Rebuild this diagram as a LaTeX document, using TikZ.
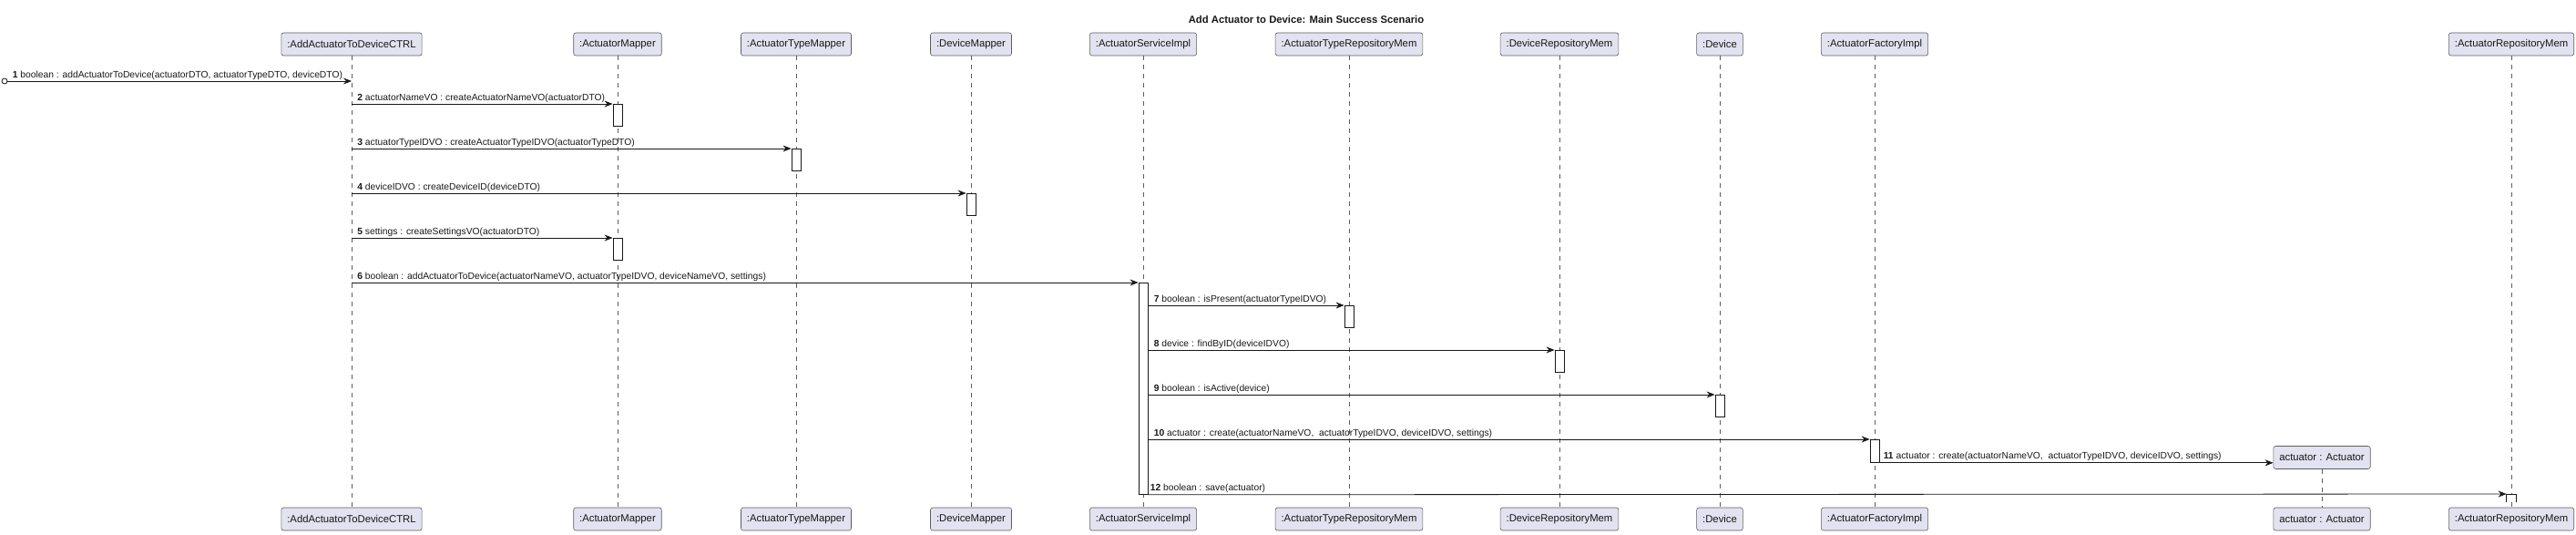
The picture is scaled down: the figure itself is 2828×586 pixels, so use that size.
\documentclass[tikz,border=0pt]{standalone}
\usepackage{fontspec}
\setmainfont{Liberation Sans}
\usetikzlibrary{arrows.meta,calc}
\definecolor{pfill}{HTML}{E2E2F0}
\definecolor{ink}{HTML}{181818}
\begin{document}
\begin{tikzpicture}[x=1pt,y=-1pt,
 part/.style={draw=ink!70, fill=pfill, rounded corners=2.5pt, line width=0.6pt, minimum height=25pt, inner xsep=6.5pt, inner ysep=0pt, font=\fontsize{11.3}{13}\selectfont, text=ink},
 life/.style={draw=ink!70, dash pattern=on 5pt off 5pt, line width=0.5pt},
 actbox/.style={draw=ink, fill=white, line width=0.8pt, minimum width=10pt, minimum height=24pt, inner sep=0pt, anchor=north},
 msg/.style={draw=ink, line width=0.8pt, -{Stealth[length=9pt,width=7pt,inset=3pt]}},
 lbl/.style={font=\fontsize{10.3}{12}\selectfont, text=ink, inner sep=0pt, anchor=base west, xshift=6pt, yshift=4pt},
]
\path[use as bounding box] (0,0) rectangle (2828,586);

\node[font=\bfseries\fontsize{11.3}{13}\selectfont, text=ink] (title) at (1434,21) {Add Actuator to Device: Main Success Scenario};

% participants
\node[part] (ctrlT) at (386,48.5) {:AddActuatorToDeviceCTRL};
\node[part] (ctrlB) at (386,569.5) {:AddActuatorToDeviceCTRL};
\node[part] (amT) at (678,48.5) {:ActuatorMapper};
\node[part] (amB) at (678,569.5) {:ActuatorMapper};
\node[part] (atmT) at (874,48.5) {:ActuatorTypeMapper};
\node[part] (atmB) at (874,569.5) {:ActuatorTypeMapper};
\node[part] (dmT) at (1066,48.5) {:DeviceMapper};
\node[part] (dmB) at (1066,569.5) {:DeviceMapper};
\node[part] (svcT) at (1255,48.5) {:ActuatorServiceImpl};
\node[part] (svcB) at (1255,569.5) {:ActuatorServiceImpl};
\node[part] (atrT) at (1481,48.5) {:ActuatorTypeRepositoryMem};
\node[part] (atrB) at (1481,569.5) {:ActuatorTypeRepositoryMem};
\node[part] (drT) at (1712,48.5) {:DeviceRepositoryMem};
\node[part] (drB) at (1712,569.5) {:DeviceRepositoryMem};
\node[part] (devT) at (1888,48.5) {:Device};
\node[part] (devB) at (1888,569.5) {:Device};
\node[part] (facT) at (2058,48.5) {:ActuatorFactoryImpl};
\node[part] (facB) at (2058,569.5) {:ActuatorFactoryImpl};
\node[part] (actT) at (2549,502) {actuator : Actuator};
\node[part] (actB) at (2549,569.5) {actuator : Actuator};
\node[part] (arT) at (2757,48.5) {:ActuatorRepositoryMem};
\node[part] (arB) at (2757,569.5) {:ActuatorRepositoryMem};

% lifelines
\draw[life] (ctrlT.south) -- (ctrlB.north);
\draw[life] (amT.south) -- (amB.north);
\draw[life] (atmT.south) -- (atmB.north);
\draw[life] (dmT.south) -- (dmB.north);
\draw[life] (svcT.south) -- (svcB.north);
\draw[life] (atrT.south) -- (atrB.north);
\draw[life] (drT.south) -- (drB.north);
\draw[life] (devT.south) -- (devB.north);
\draw[life] (facT.south) -- (facB.north);
\draw[life] (actT.south) -- (actB.north);
\draw[life] (arT.south) -- (arB.north);

% activations
\node[actbox] (a2) at (678,114) {};
\node[actbox] (a3) at (874,163) {};
\node[actbox] (a4) at (1066,212) {};
\node[actbox] (a5) at (678,261) {};
\node[actbox, minimum height=232pt] (a6) at (1255,310) {};
\node[actbox] (a7) at (1481,335) {};
\node[actbox] (a8) at (1712,384) {};
\node[actbox] (a9) at (1888,433) {};
\node[actbox, minimum height=25pt] (a10) at (2058,482) {};
\node[actbox, draw=none, minimum height=8pt] (a12) at (2757,542) {};
\draw[ink, line width=0.8pt] (a12.south west) -- (a12.north west) -- (a12.north east) -- (a12.south east);

% messages
\node[circle, draw=ink, line width=0.8pt, fill=white, minimum size=6pt, inner sep=0pt] (start) at (5,89) {};
\draw[msg] (start.east) -- (start -| ctrlT) node[lbl, at start, xshift=-1pt] {\textbf{1} boolean : addActuatorToDevice(actuatorDTO, actuatorTypeDTO, deviceDTO)};
\draw[msg] (ctrlT |- a2.north) -- (a2.north west) node[lbl, at start] {\textbf{2} actuatorNameVO : createActuatorNameVO(actuatorDTO)};
\draw[msg] (ctrlT |- a3.north) -- (a3.north west) node[lbl, at start] {\textbf{3} actuatorTypeIDVO : createActuatorTypeIDVO(actuatorTypeDTO)};
\draw[msg] (ctrlT |- a4.north) -- (a4.north west) node[lbl, at start] {\textbf{4} deviceIDVO : createDeviceID(deviceDTO)};
\draw[msg] (ctrlT |- a5.north) -- (a5.north west) node[lbl, at start] {\textbf{5} settings : createSettingsVO(actuatorDTO)};
\draw[msg] (ctrlT |- a6.north) -- (a6.north west) node[lbl, at start] {\textbf{6} boolean : addActuatorToDevice(actuatorNameVO, actuatorTypeIDVO, deviceNameVO, settings)};
\draw[msg] (a6.east |- a7.north) -- (a7.north west) node[lbl, at start] {\textbf{7} boolean : isPresent(actuatorTypeIDVO)};
\draw[msg] (a6.east |- a8.north) -- (a8.north west) node[lbl, at start] {\textbf{8} device : findByID(deviceIDVO)};
\draw[msg] (a6.east |- a9.north) -- (a9.north west) node[lbl, at start] {\textbf{9} boolean : isActive(device)};
\draw[msg] (a6.east |- a10.north) -- (a10.north west) node[lbl, at start] {\textbf{10} actuator : create(actuatorNameVO,\ \ actuatorTypeIDVO, deviceIDVO, settings)};
\draw[msg] (a10.south east) -- (actT.west |- a10.south) node[lbl, at start, xshift=-2pt] {\textbf{11} actuator : create(actuatorNameVO,\ \ actuatorTypeIDVO, deviceIDVO, settings)};
\draw[msg] (a6.south east) -- (a12.north west) node[lbl, at start, xshift=-4pt] {\textbf{12} boolean : save(actuator)};
\end{tikzpicture}
\end{document}
